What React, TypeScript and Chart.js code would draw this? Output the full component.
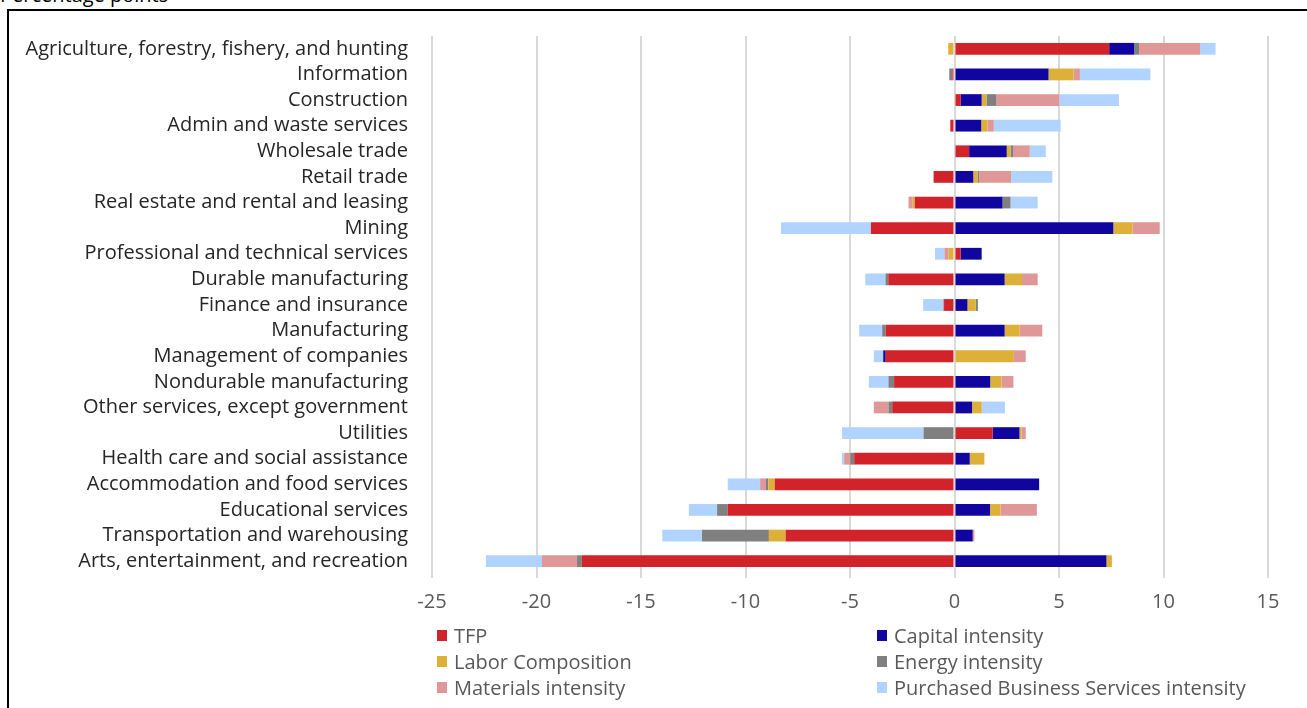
import React, { useEffect, useRef } from "react";
import { Chart, registerables } from "chart.js";

Chart.register(...registerables);

const categories = [
  "Agriculture, forestry, fishery, and hunting",
  "Information",
  "Construction",
  "Admin and waste services",
  "Wholesale trade",
  "Retail trade",
  "Real estate and rental and leasing",
  "Mining",
  "Professional and technical services",
  "Durable manufacturing",
  "Finance and insurance",
  "Manufacturing",
  "Management of companies",
  "Nondurable manufacturing",
  "Other services, except government",
  "Utilities",
  "Health care and social assistance",
  "Accommodation and food services",
  "Educational services",
  "Transportation and warehousing",
  "Arts, entertainment, and recreation",
];

const tfp = [7.4, -0.1, 0.3, -0.2, 0.7, -1.0, -1.9, -4.0, 0.3, -3.17, -0.5, -3.29, -3.29, -2.89, -2.98, 1.83, -4.8, -8.6, -10.85, -8.08, -17.83];
const capital = [1.2, 4.5, 1.0, 1.28, 1.8, 0.9, 2.3, 7.6, 1.0, 2.4, 0.62, 2.4, -0.12, 1.71, 0.84, 1.28, 0.73, 4.05, 1.7, 0.87, 7.27];
const labor = [-0.3, 1.2, 0.23, 0.3, 0.18, 0.2, -0.1, 0.92, -0.28, 0.83, 0.4, 0.72, 2.84, 0.54, 0.46, 0.1, 0.7, -0.31, 0.5, -0.8, 0.26];
const energy = [0.23, -0.15, 0.48, 0, 0.12, 0.08, 0.38, 0, 0, -0.13, 0.1, -0.17, 0, -0.27, -0.18, -1.48, -0.19, -0.11, -0.51, -3.2, -0.23];
const materials = [2.92, 0.3, 3.0, 0.3, 0.8, 1.53, -0.2, 1.3, -0.2, 0.75, -0.05, 1.08, 0.57, 0.57, -0.7, 0.2, -0.29, -0.28, 1.74, 0.08, -1.68];
const pbs = [0.74, 3.37, 2.86, 3.2, 0.77, 1.97, 1.3, -4.3, -0.45, -0.97, -0.95, -1.1, -0.45, -0.94, 1.11, -3.9, -0.11, -1.55, -1.35, -1.9, -2.68];

const seriesNames = [
  "TFP",
  "Capital intensity",
  "Labor Composition",
  "Energy intensity",
  "Materials intensity",
  "Purchased Business Services intensity",
];
const seriesColors = ["#D2232B", "#10069F", "#DDB03A", "#808080", "#E09797", "#B0D3FF"];
const xTicks = [-25, -20, -15, -10, -5, 0, 5, 10, 15];

const FONT = "'Open Sans', sans-serif";

export default function App() {
  const ref = useRef<HTMLCanvasElement | null>(null);

  useEffect(() => {
    if (!ref.current) return;
    const values = [tfp, capital, labor, energy, materials, pbs];
    const chart = new Chart(ref.current, {
      type: "bar",
      data: {
        labels: categories,
        datasets: seriesNames.map((name, i) => ({
          label: name,
          data: values[i],
          backgroundColor: seriesColors[i],
          borderWidth: 0,
          barPercentage: 0.46,
          categoryPercentage: 1,
        })),
      },
      options: {
        indexAxis: "y",
        animation: false,
        responsive: false,
        maintainAspectRatio: false,
        layout: { padding: { left: 0, right: 39, top: 32, bottom: 0 } },
        plugins: {
          legend: { display: false },
          tooltip: { enabled: false },
        },
        scales: {
          x: {
            stacked: true,
            min: -25,
            max: 15,
            afterBuildTicks: (scale: any) => {
              scale.ticks = xTicks.map((v) => ({ value: v }));
            },
            afterFit: (scale: any) => {
              scale.height = 134;
            },
            grid: {
              color: "#D9D9D9",
              lineWidth: 2,
              drawTicks: true,
              tickLength: 4,
            },
            border: { display: false },
            ticks: {
              padding: 12,
              color: "#595959",
              font: { family: FONT, size: 20 },
            },
          },
          y: {
            stacked: true,
            afterFit: (scale: any) => {
              scale.width = 432;
            },
            grid: { display: false, drawTicks: false },
            border: { display: false },
            ticks: {
              padding: 24,
              color: "#262626",
              font: { family: FONT, size: 20 },
              autoSkip: false,
            },
          },
        },
      },
    });
    return () => chart.destroy();
  }, []);

  const legendRows = [
    [0, 1],
    [2, 3],
    [4, 5],
  ];

  return (
    <div style={{ position: "absolute", left: 0, top: 0, width: 1307, height: 708, overflow: "hidden", background: "#fff" }}>
      <div
        style={{
          position: "absolute",
          left: 7,
          top: 9,
          width: 1400,
          height: 800,
          borderTop: "2px solid #000",
          borderLeft: "2px solid #000",
        }}
      />
      <div
        style={{
          position: "absolute",
          left: 0,
          top: -19,
          fontFamily: FONT,
          fontSize: 20,
          color: "#000",
          whiteSpace: "nowrap",
        }}
      >
        Percentage points
      </div>
      <canvas ref={ref} width={1307} height={708} style={{ position: "absolute", left: 0, top: 0, width: 1307, height: 708 }} />
      {legendRows.map((row, r) =>
        row.map((si, c) => (
          <div
            key={si}
            style={{
              position: "absolute",
              left: c === 0 ? 437 : 877,
              top: 635 + r * 26 - 14,
              height: 28,
              display: "flex",
              alignItems: "center",
              fontFamily: FONT,
              fontSize: 20,
              color: "#595959",
              whiteSpace: "nowrap",
            }}
          >
            <span style={{ display: "inline-block", width: 10, height: 11, background: seriesColors[si], marginRight: 7 }} />
            {seriesNames[si]}
          </div>
        ))
      )}
    </div>
  );
}
